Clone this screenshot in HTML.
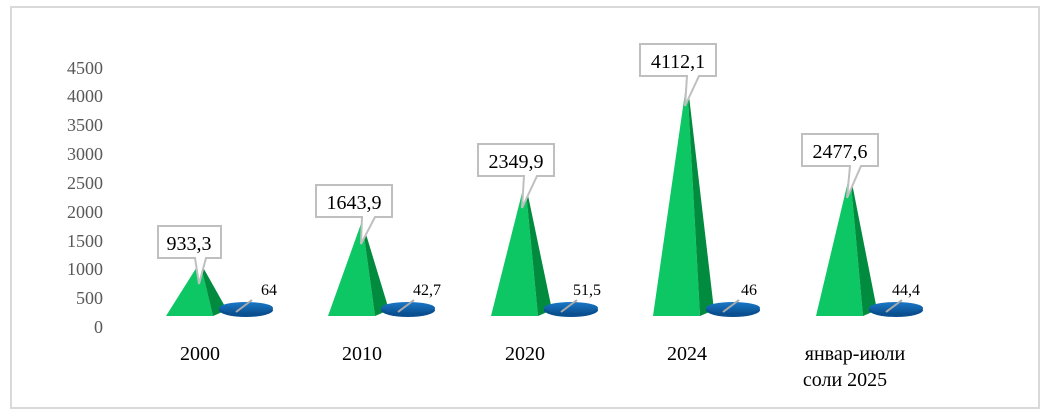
<!DOCTYPE html>
<html><head><meta charset="utf-8"><style>
body{margin:0;background:#fff}
svg{display:block}
text{font-family:"Liberation Serif",serif}
</style></head><body>
<svg width="1049" height="419" viewBox="0 0 1049 419">
<rect x="11" y="7" width="1028" height="401" fill="#fff" stroke="#d9d9d9" stroke-width="2"/>
<g font-size="18" fill="#595959" text-anchor="end">
<text x="103" y="74">4500</text><text x="103" y="102">4000</text><text x="103" y="131">3500</text>
<text x="103" y="160">3000</text><text x="103" y="189">2500</text><text x="103" y="218">2000</text>
<text x="103" y="247">1500</text><text x="103" y="275">1000</text><text x="103" y="304">500</text>
<text x="103" y="333">0</text>
</g>
<defs>
<linearGradient id="disk" x1="0" y1="0" x2="0" y2="1"><stop offset="0" stop-color="#1b78c8"/><stop offset="1" stop-color="#0a4f8f"/></linearGradient>
</defs>
<g>
<polygon points="166,316 200,262 213,316" fill="#0cc763"/><polygon points="200,262 213,316 227,310" fill="#008b3e"/>
<ellipse cx="246" cy="310" rx="27" ry="7" fill="#0a4f8f"/><ellipse cx="246" cy="308" rx="27" ry="6" fill="url(#disk)"/><line x1="236" y1="312" x2="252" y2="300" stroke="#aaa" stroke-width="2"/>
<text x="261" y="295" font-size="16">64</text>
<polygon points="158,226 221,226 221,258 206,258 199,284 195,258 158,258" fill="#fff" stroke="#bfbfbf" stroke-width="2"/>
<text x="189" y="250" font-size="20" text-anchor="middle">933,3</text>
<text x="200" y="360" font-size="20" text-anchor="middle">2000</text>
</g>
<g>
<polygon points="328,316 362,221 375,316" fill="#0cc763"/><polygon points="362,221 375,316 389,310" fill="#008b3e"/>
<ellipse cx="408" cy="310" rx="27" ry="7" fill="#0a4f8f"/><ellipse cx="408" cy="308" rx="27" ry="6" fill="url(#disk)"/><line x1="398" y1="312" x2="414" y2="300" stroke="#aaa" stroke-width="2"/>
<text x="413" y="295" font-size="16">42,7</text>
<polygon points="316,185 392,185 392,217 375,217 361,244 362,217 316,217" fill="#fff" stroke="#bfbfbf" stroke-width="2"/>
<text x="354" y="209" font-size="20" text-anchor="middle">1643,9</text>
<text x="362" y="360" font-size="20" text-anchor="middle">2010</text>
</g>
<g>
<polygon points="491,316 525,181 538,316" fill="#0cc763"/><polygon points="525,181 538,316 552,310" fill="#008b3e"/>
<ellipse cx="571" cy="310" rx="27" ry="7" fill="#0a4f8f"/><ellipse cx="571" cy="308" rx="27" ry="6" fill="url(#disk)"/><line x1="561" y1="312" x2="577" y2="300" stroke="#aaa" stroke-width="2"/>
<text x="573" y="295" font-size="16">51,5</text>
<polygon points="478,144 554,144 554,176 537,176 522,208 524,176 478,176" fill="#fff" stroke="#bfbfbf" stroke-width="2"/>
<text x="516" y="168" font-size="20" text-anchor="middle">2349,9</text>
<text x="525" y="360" font-size="20" text-anchor="middle">2020</text>
</g>
<g>
<polygon points="653,316 687,79 700,316" fill="#0cc763"/><polygon points="687,79 700,316 714,310" fill="#008b3e"/>
<ellipse cx="733" cy="310" rx="27" ry="7" fill="#0a4f8f"/><ellipse cx="733" cy="308" rx="27" ry="6" fill="url(#disk)"/><line x1="723" y1="312" x2="739" y2="300" stroke="#aaa" stroke-width="2"/>
<text x="741" y="295" font-size="16">46</text>
<polygon points="640,44 716,44 716,76 699,76 685,106 687,76 640,76" fill="#fff" stroke="#bfbfbf" stroke-width="2"/>
<text x="678" y="68" font-size="20" text-anchor="middle">4112,1</text>
<text x="687" y="360" font-size="20" text-anchor="middle">2024</text>
</g>
<g>
<polygon points="816,316 850,173 863,316" fill="#0cc763"/><polygon points="850,173 863,316 877,310" fill="#008b3e"/>
<ellipse cx="896" cy="310" rx="27" ry="7" fill="#0a4f8f"/><ellipse cx="896" cy="308" rx="27" ry="6" fill="url(#disk)"/><line x1="886" y1="312" x2="902" y2="300" stroke="#aaa" stroke-width="2"/>
<text x="892" y="295" font-size="16">44,4</text>
<polygon points="802,134 878,134 878,166 861,166 847,198 850,166 802,166" fill="#fff" stroke="#bfbfbf" stroke-width="2"/>
<text x="840" y="158" font-size="20" text-anchor="middle">2477,6</text>
<text x="855" y="360" font-size="20" text-anchor="middle">январ-июли</text>
<text x="845" y="386" font-size="20" text-anchor="middle">соли 2025</text>
</g>
</svg>
</body></html>
